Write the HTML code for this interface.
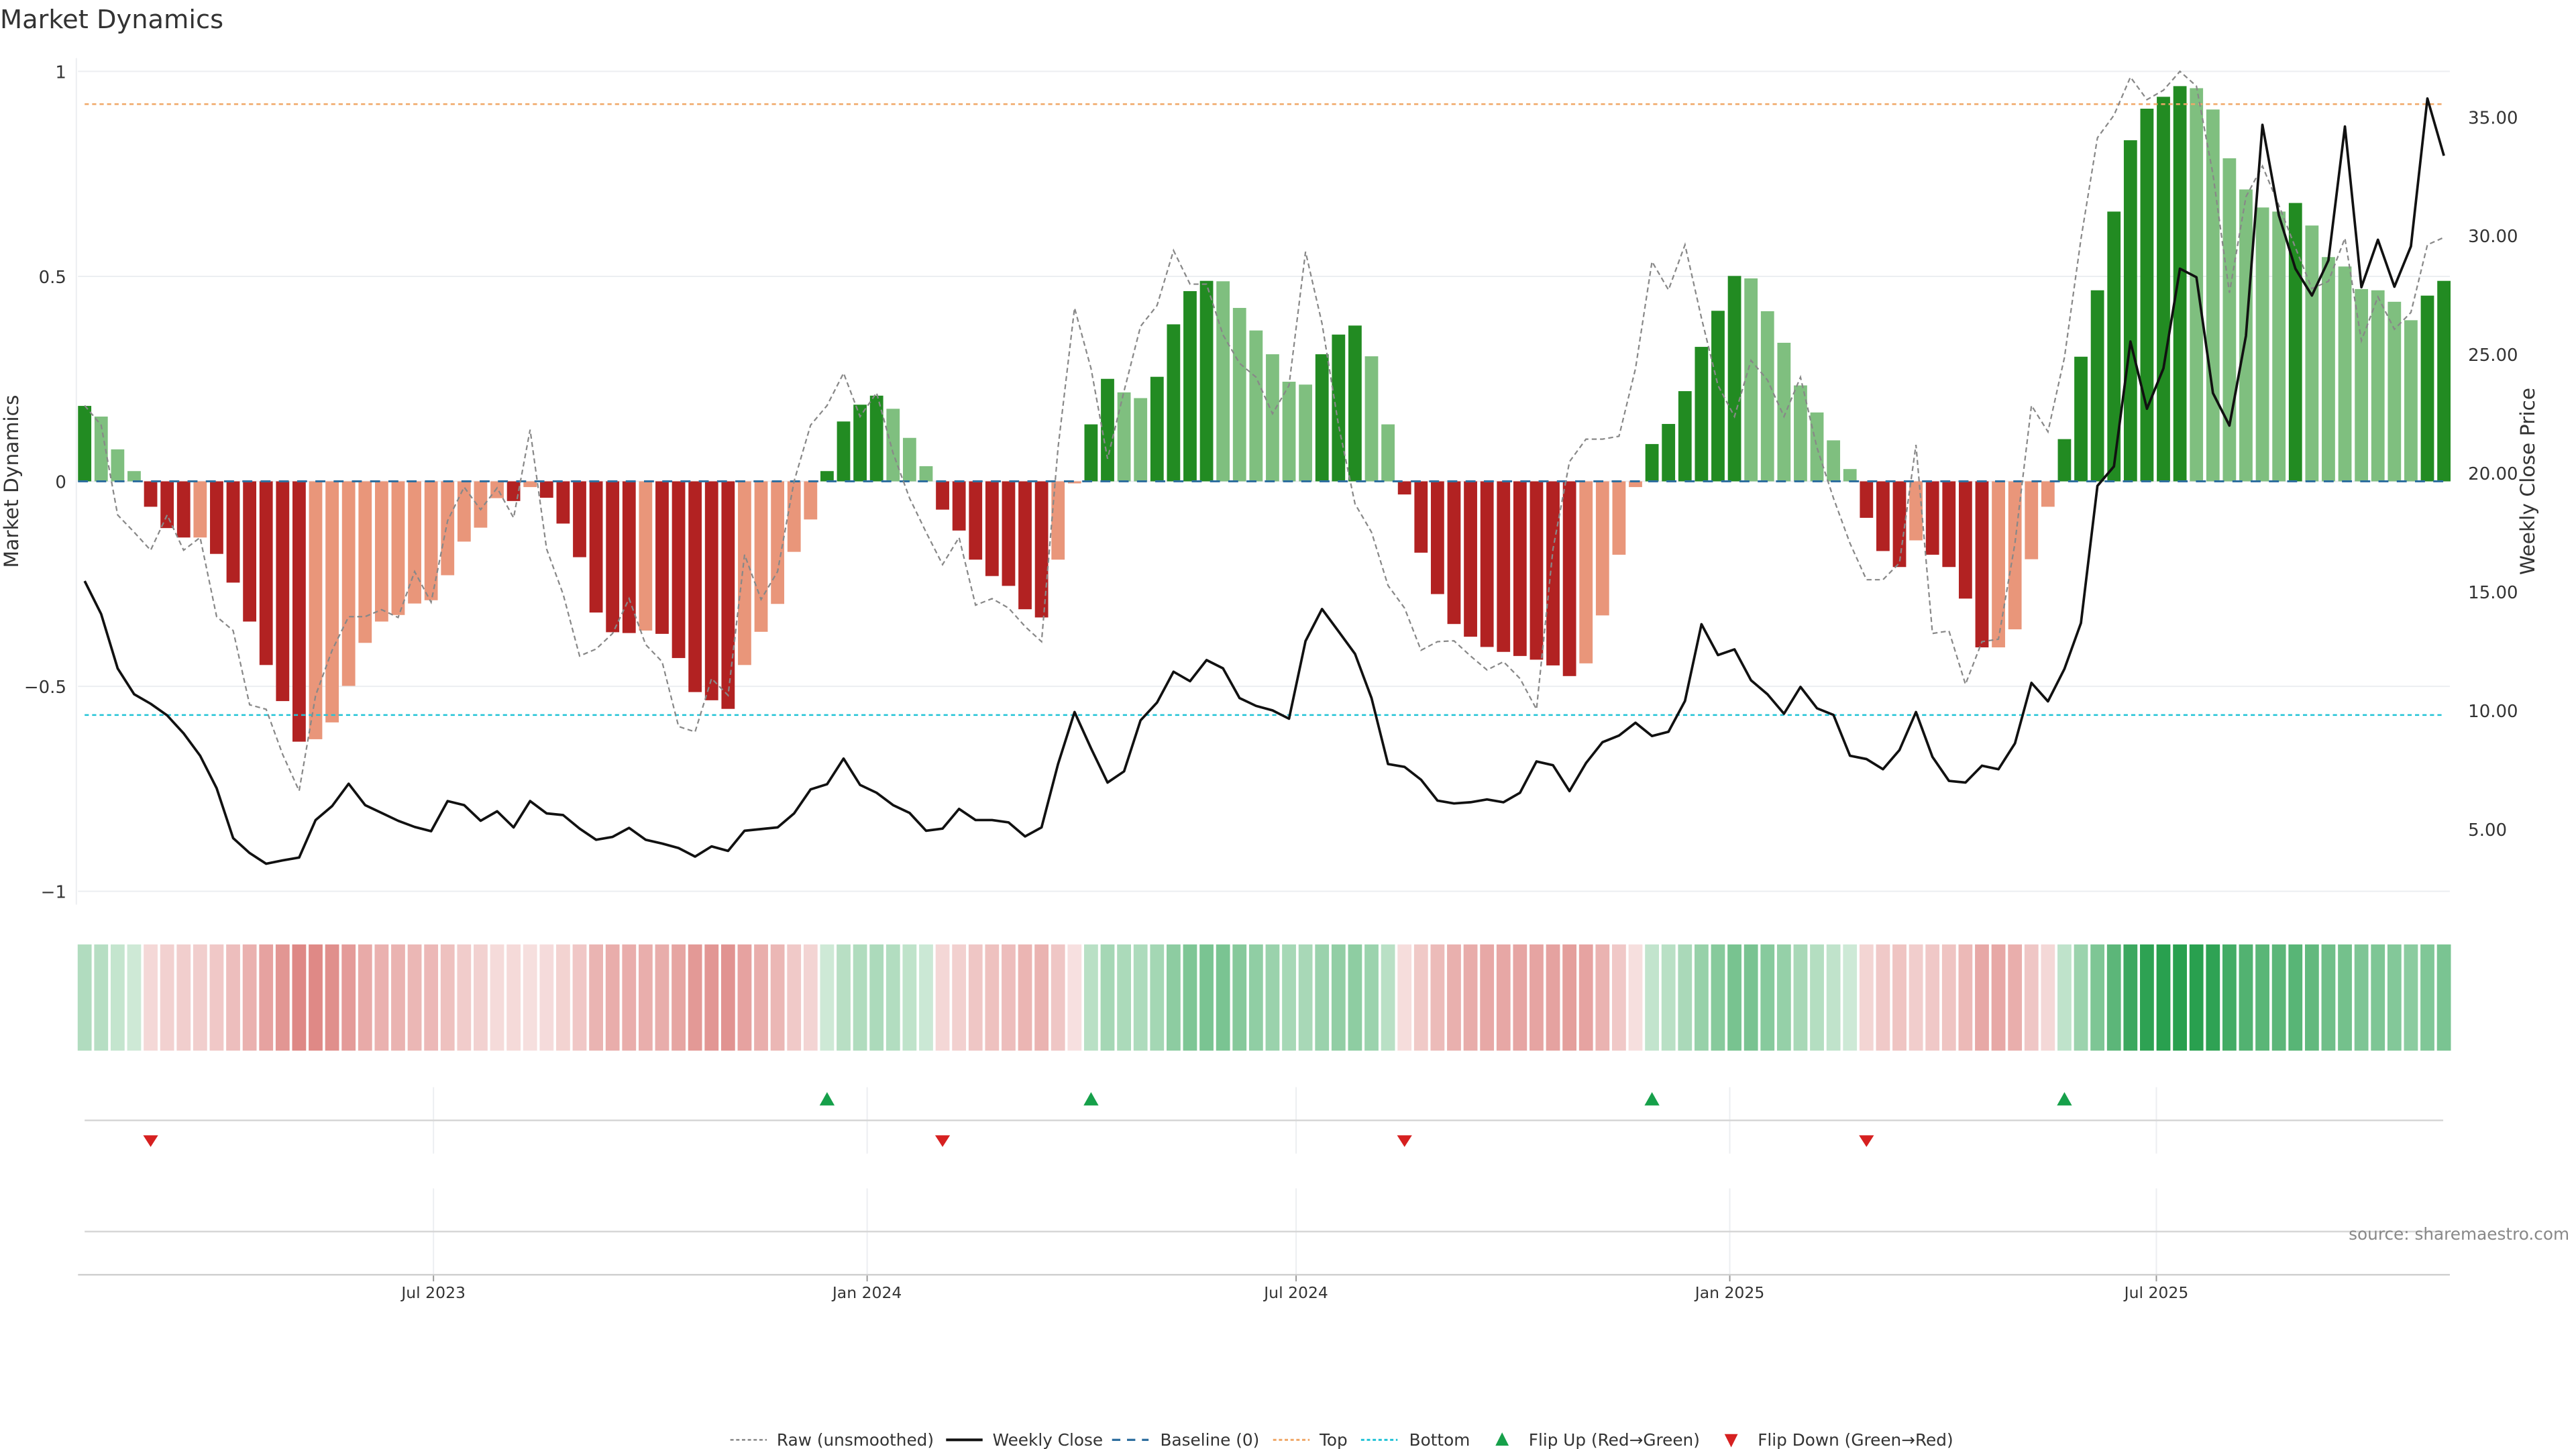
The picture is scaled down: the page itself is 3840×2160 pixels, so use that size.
<!DOCTYPE html>
<html><head><meta charset="utf-8"><style>
html,body{margin:0;padding:0;background:#fff;}
svg{display:block;font-family:"DejaVu Sans","Liberation Sans",sans-serif;}
</style></head><body>
<svg id="chart" width="3840" height="2160" viewBox="0 0 1552 873" preserveAspectRatio="none" xmlns="http://www.w3.org/2000/svg">
<text x="0" y="17" font-size="15.5" fill="#333">Market Dynamics</text>
<g id="main"></g>
<text transform="translate(11,290) rotate(-90)" text-anchor="middle" font-size="12" fill="#333">Market Dynamics</text>
<text transform="translate(1527,290) rotate(-90)" text-anchor="middle" font-size="12" fill="#333">Weekly Close Price</text>
<text x="1548" y="747" text-anchor="end" font-size="10" fill="#888">source: sharemaestro.com</text>
<g id="legend"></g>
</svg>
<script>
const momentum = [0.184,0.158,0.078,0.025,-0.062,-0.114,-0.137,-0.137,-0.177,-0.247,-0.342,-0.448,-0.536,-0.635,-0.629,-0.588,-0.499,-0.394,-0.342,-0.326,-0.298,-0.290,-0.229,-0.147,-0.113,-0.041,-0.048,-0.014,-0.040,-0.103,-0.185,-0.320,-0.368,-0.370,-0.364,-0.372,-0.431,-0.514,-0.534,-0.555,-0.448,-0.367,-0.299,-0.172,-0.093,0.025,0.146,0.187,0.209,0.177,0.106,0.037,-0.069,-0.120,-0.191,-0.231,-0.255,-0.312,-0.332,-0.191,-0.005,0.139,0.250,0.217,0.203,0.255,0.383,0.464,0.489,0.488,0.423,0.368,0.310,0.243,0.236,0.310,0.358,0.380,0.305,0.139,-0.032,-0.174,-0.275,-0.348,-0.379,-0.404,-0.416,-0.426,-0.435,-0.449,-0.475,-0.444,-0.327,-0.179,-0.014,0.091,0.140,0.220,0.328,0.416,0.501,0.495,0.415,0.338,0.234,0.168,0.100,0.030,-0.089,-0.170,-0.209,-0.144,-0.179,-0.209,-0.286,-0.405,-0.405,-0.361,-0.190,-0.062,0.103,0.304,0.466,0.658,0.832,0.909,0.938,0.964,0.959,0.907,0.788,0.712,0.668,0.658,0.679,0.624,0.547,0.524,0.469,0.466,0.438,0.393,0.453,0.489];
const rawValues = [0.185,0.137,-0.082,-0.124,-0.168,-0.082,-0.168,-0.137,-0.330,-0.364,-0.545,-0.556,-0.666,-0.755,-0.522,-0.412,-0.330,-0.330,-0.313,-0.332,-0.220,-0.295,-0.096,-0.014,-0.069,-0.016,-0.089,0.126,-0.165,-0.275,-0.426,-0.409,-0.371,-0.286,-0.398,-0.440,-0.598,-0.611,-0.481,-0.522,-0.179,-0.288,-0.220,0.000,0.137,0.185,0.264,0.158,0.216,0.069,-0.041,-0.124,-0.203,-0.137,-0.302,-0.286,-0.309,-0.354,-0.391,0.082,0.423,0.275,0.055,0.220,0.378,0.429,0.563,0.481,0.481,0.357,0.288,0.254,0.165,0.234,0.560,0.385,0.137,-0.055,-0.124,-0.254,-0.309,-0.412,-0.391,-0.389,-0.426,-0.460,-0.440,-0.481,-0.556,-0.165,0.048,0.103,0.103,0.110,0.275,0.536,0.467,0.577,0.398,0.234,0.158,0.295,0.247,0.158,0.254,0.082,-0.041,-0.151,-0.240,-0.240,-0.199,0.089,-0.371,-0.365,-0.495,-0.391,-0.385,-0.151,0.185,0.121,0.302,0.591,0.838,0.893,0.986,0.931,0.954,1.000,0.964,0.749,0.460,0.694,0.769,0.673,0.570,0.470,0.488,0.593,0.343,0.450,0.371,0.412,0.577,0.595];
const closePrices = [15.45,14.06,11.77,10.68,10.28,9.79,9.03,8.09,6.72,4.62,3.99,3.54,3.68,3.80,5.38,5.97,6.91,6.01,5.68,5.35,5.09,4.91,6.18,6.01,5.35,5.75,5.07,6.18,5.66,5.59,5.02,4.55,4.67,5.05,4.55,4.39,4.20,3.84,4.27,4.08,4.93,5.00,5.07,5.66,6.67,6.89,7.97,6.86,6.53,6.01,5.68,4.93,5.02,5.85,5.38,5.38,5.28,4.69,5.07,7.74,9.93,8.40,6.96,7.43,9.58,10.33,11.63,11.23,12.12,11.77,10.52,10.19,10.00,9.65,12.92,14.27,13.33,12.38,10.52,7.74,7.62,7.08,6.20,6.08,6.13,6.25,6.13,6.53,7.85,7.69,6.60,7.78,8.66,8.94,9.48,8.92,9.10,10.40,13.63,12.33,12.57,11.27,10.68,9.86,10.99,10.09,9.81,8.09,7.95,7.52,8.33,9.93,8.04,7.03,6.96,7.67,7.52,8.61,11.16,10.38,11.75,13.68,19.46,20.28,25.54,22.71,24.41,28.61,28.25,23.37,22.00,25.78,34.67,30.85,28.61,27.48,28.96,34.60,27.83,29.83,27.85,29.55,35.78,33.37];
const startDate = "2023-02-03";
const leftTicks = [1,0.5,0,-0.5,-1];
const leftTickLabels = ["1","0.5","0","\u22120.5","\u22121"];
const rightTicks = [5,10,15,20,25,30,35];
const rightTickLabels = ["5.00","10.00","15.00","20.00","25.00","30.00","35.00"];
const dateTicks = ["2023-07-01","2024-01-01","2024-07-01","2025-01-01","2025-07-01"];
const dateTickLabels = ["Jul 2023","Jan 2024","Jul 2024","Jan 2025","Jul 2025"];
const topLevel = 0.92;
const bottomLevel = -0.57;

const NS="http://www.w3.org/2000/svg";
const X0=47, X1=1476, STEP=9.94, FIRST=51;
function xb(i){return FIRST+i*STEP;}
function yv(v){return 290-v*247;}
function yp(p){return 285-(p-20)*14.3;}
function xd(s){const d=(new Date(s)-new Date(startDate))/86400000/7;return FIRST+d*STEP;}
function mk(tag,attrs,parent){const e=document.createElementNS(NS,tag);for(const k in attrs)e.setAttribute(k,attrs[k]);(parent||main).appendChild(e);return e;}
const main=document.getElementById('main');

leftTicks.forEach((t,i)=>{
  const g=mk('line',{x1:X0,x2:X1,y1:yv(t),y2:yv(t),stroke:'#eceef1','stroke-width':0.8});
  
  
  const tx=mk('text',{x:40,y:yv(t)+4,'text-anchor':'end','font-size':10.5,fill:'#333'});
  tx.textContent=leftTickLabels[i];
  
  
});
const ax=mk('line',{x1:46,x2:46,y1:35,y2:545,stroke:'#eceef1','stroke-width':0.8});


rightTicks.forEach((t,i)=>{
  const tx=mk('text',{x:1487,y:yp(t)+4,'font-size':10.5,fill:'#333'});
  tx.textContent=rightTickLabels[i];
  
  
});

momentum.forEach((v,i)=>{
  const prev=i>0?momentum[i-1]:0;
  const rising=i===0||Math.abs(v)>Math.abs(prev)||Math.sign(v)!==Math.sign(prev);
  const col=v>=0?(rising?'#228b22':'#7fbf7f'):(rising?'#b22222':'#e9967a');
  const y=Math.min(yv(v),yv(0)),h=Math.abs(yv(v)-yv(0));
  const r=mk('rect',{x:xb(i)-4,y:y,width:8,height:Math.max(h,0.3),fill:col});
  
  
});
const bl=mk('line',{x1:X0,x2:X1,y1:yv(0),y2:yv(0),stroke:'#2f6f9f','stroke-width':1.2,'stroke-dasharray':'6 5'});


const tl=mk('line',{x1:51,x2:1472,y1:yv(topLevel),y2:yv(topLevel),stroke:'#f0a868','stroke-width':1,'stroke-dasharray':'2.5 2'});


const btl=mk('line',{x1:51,x2:1472,y1:yv(bottomLevel),y2:yv(bottomLevel),stroke:'#22c3d6','stroke-width':1,'stroke-dasharray':'2.5 2'});


const rp=mk('polyline',{points:rawValues.map((v,i)=>xb(i)+','+yv(v)).join(' '),fill:'none',stroke:'#888','stroke-width':0.9,'stroke-dasharray':'3 2'});


const cp=mk('polyline',{points:closePrices.map((p,i)=>xb(i)+','+yp(p)).join(' '),fill:'none',stroke:'#111','stroke-width':1.5,'stroke-linejoin':'round'});



momentum.forEach((v,i)=>{
  const a=v>=0?Math.min(0.2+0.8*Math.abs(v),0.95):Math.min(0.15+0.7*Math.abs(v),0.95);
  const base=v>=0?[30,155,70]:[200,55,50];
  const c=base.map(b=>Math.round(255-(255-b)*a));
  const r=mk('rect',{x:xb(i)-4.2,y:569,width:8.4,height:64,fill:'rgb('+c.join(',')+')'});
  
  
});

dateTicks.forEach((d,i)=>{
  const x=xd(d);
  const g1=mk('line',{x1:x,x2:x,y1:655,y2:695,stroke:'#eceef1','stroke-width':0.8});
  
  
  const g2=mk('line',{x1:x,x2:x,y1:716,y2:768,stroke:'#eceef1','stroke-width':0.8});
  
  
  const tk=mk('line',{x1:x,x2:x,y1:768,y2:772,stroke:'#999','stroke-width':0.8});
  
  
  const tx=mk('text',{x:x,y:782,'text-anchor':'middle','font-size':9.5,fill:'#333'});
  tx.textContent=dateTickLabels[i];
  
  
});
const fl=mk('line',{x1:51,x2:1472,y1:675,y2:675,stroke:'#d6d6d6','stroke-width':1});


const fl2=mk('line',{x1:51,x2:1472,y1:742,y2:742,stroke:'#d6d6d6','stroke-width':1});


const xa=mk('line',{x1:X0,x2:X1,y1:768,y2:768,stroke:'#d0d0d0','stroke-width':1});


momentum.forEach((v,i)=>{
  if(i===0)return;
  const p=momentum[i-1];
  const x=xb(i);
  if(p<0&&v>=0){
    const m=mk('polygon',{points:(x-4.5)+',666 '+(x+4.5)+',666 '+x+',658',fill:'#16a04a'});
    
    
  } else if(p>=0&&v<0){
    const m=mk('polygon',{points:(x-4.5)+',684 '+(x+4.5)+',684 '+x+',691',fill:'#d62020'});
    
    
  }
});

const lg=document.getElementById('legend');
function lt(x,s,name){const t=mk('text',{x:x,y:871,'font-size':10,fill:'#333'},lg);t.textContent=s;}
function ll(x,attrs,name){const l=mk('line',Object.assign({x1:x,x2:x+22,y1:867.5,y2:867.5},attrs),lg);}
ll(440,{stroke:'#888','stroke-width':1,'stroke-dasharray':'2 1.5'},'legend-raw-swatch');lt(468,'Raw (unsmoothed)','legend-raw-label');
ll(570,{stroke:'#111','stroke-width':1.6},'legend-close-swatch');lt(598,'Weekly Close','legend-close-label');
ll(670,{stroke:'#2f6f9f','stroke-width':1.3,'stroke-dasharray':'5 4'},'legend-baseline-swatch');lt(699,'Baseline (0)','legend-baseline-label');
ll(767,{stroke:'#f0a868','stroke-width':1.2,'stroke-dasharray':'2 1.5'},'legend-top-swatch');lt(795,'Top','legend-top-label');
ll(820,{stroke:'#22c3d6','stroke-width':1.2,'stroke-dasharray':'2 1.5'},'legend-bottom-swatch');lt(849,'Bottom','legend-bottom-label');
const u=mk('polygon',{points:'901,871 909,871 905,863',fill:'#16a04a'},lg);


lt(921,'Flip Up (Red\u2192Green)','legend-flip-up-label');
const dn=mk('polygon',{points:'1039,864 1047,864 1043,872',fill:'#d62020'},lg);


lt(1059,'Flip Down (Green\u2192Red)','legend-flip-down-label');
</script>
</body></html>
